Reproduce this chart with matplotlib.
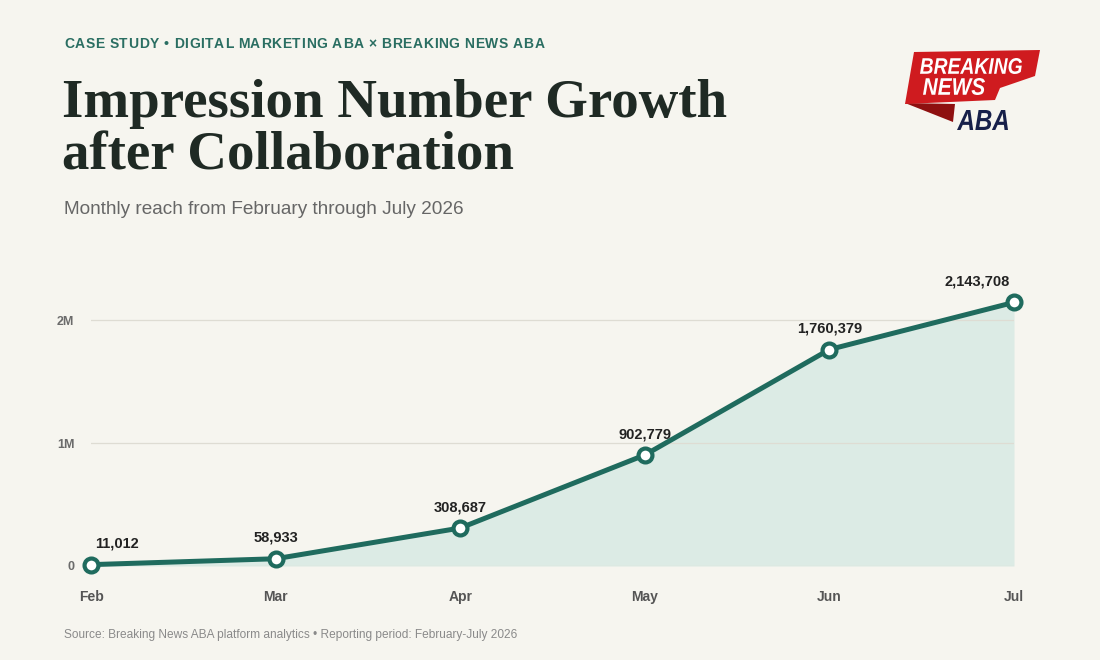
import matplotlib.pyplot as plt
from matplotlib.patches import Polygon, PathPatch
from matplotlib.textpath import TextPath
from matplotlib.font_manager import FontProperties
from matplotlib.transforms import Affine2D

months = ["Feb", "Mar", "Apr", "May", "Jun", "Jul"]
impressions = [11012, 58933, 308687, 902779, 1760379, 2143708]
y_ticks = [0, 1_000_000, 2_000_000]
y_tick_labels = ["0", "1M", "2M"]

bg = "#f6f5ef"
teal = "#1f6b5e"
fill_teal = "#dcebe5"
dark = "#1f2a24"

fig = plt.figure(figsize=(11, 6.6), dpi=100, facecolor=bg)

# main chart area
ax = fig.add_axes([91 / 1100, 94 / 660, 923 / 1100, 289 / 660])
ax.set_facecolor(bg)
x = list(range(len(months)))
ax.fill_between(x, impressions, 0, color=fill_teal, linewidth=0, zorder=1)
ax.plot(x, impressions, color=teal, linewidth=3.6, zorder=3, clip_on=False,
        marker="o", markersize=10, markerfacecolor="white",
        markeredgecolor=teal, markeredgewidth=3)
for i, v in enumerate(impressions):
    ha, dx = "center", 0
    if i == 0:
        ha, dx = "left", 3
    elif i == len(impressions) - 1:
        ha, dx = "right", -3
    ax.annotate(f"{v:,}", (i, v), xytext=(dx, 10), textcoords="offset points",
                ha=ha, va="bottom", fontsize=10.5, fontweight="bold",
                color="#222222", family="Liberation Sans")

ax.set_xlim(0, 5)
ax.set_ylim(0, 2_350_000)
ax.set_yticks(y_ticks)
ax.set_yticklabels(y_tick_labels)
ax.set_xticks(x)
ax.set_xticklabels(months)
for lab in ax.get_yticklabels():
    lab.set_fontweight("bold")
    lab.set_fontsize(9)
    lab.set_color("#6b6b6b")
    lab.set_family("Liberation Sans")
for lab in ax.get_xticklabels():
    lab.set_fontweight("bold")
    lab.set_fontsize(10)
    lab.set_color("#555555")
    lab.set_family("Liberation Sans")
ax.tick_params(axis="y", length=0, pad=12)
ax.tick_params(axis="x", length=0, pad=17)
ax.grid(axis="y", color="#dedcd3", linewidth=0.9, zorder=0)
for s in ax.spines.values():
    s.set_visible(False)

# kicker with letter spacing, drawn char by char
kicker = "CASE STUDY \u2022 DIGITAL MARKETING ABA \u00d7 BREAKING NEWS ABA"
renderer = fig.canvas.get_renderer()
kx = 64
for ch in kicker:
    t = fig.text(kx / 1100, 1 - 44 / 660, ch, fontsize=10, fontweight="bold",
                 color="#2a6e62", family="Liberation Sans", va="center", ha="left")
    kx += t.get_window_extent(renderer).width + 0.7 if ch != " " else 4.1

fig.text(62 / 1100, 1 - 104 / 660, "Impression Number Growth", fontsize=39.5,
         fontweight="bold", color=dark, family="Liberation Serif", va="center", ha="left")
fig.text(62 / 1100, 1 - 156 / 660, "after Collaboration", fontsize=39.5,
         fontweight="bold", color=dark, family="Liberation Serif", va="center", ha="left")
fig.text(64 / 1100, 1 - 210 / 660, "Monthly reach from February through July 2026",
         fontsize=13.7, color="#666666", family="Liberation Sans", va="center", ha="left")
fig.text(64 / 1100, 1 - 635 / 660,
         "Source: Breaking News ABA platform analytics \u2022 Reporting period: February-July 2026",
         fontsize=8.6, color="#8a8a8a", family="Liberation Sans", va="center", ha="left")

# logo drawn with patches, pixel coordinates (y downwards)
lg = fig.add_axes([890 / 1100, 1 - 140 / 660, 160 / 1100, 100 / 660])
lg.set_xlim(890, 1050)
lg.set_ylim(140, 40)
lg.axis("off")
lg.add_patch(Polygon([(905, 103), (955, 104), (953, 122)], closed=True,
                     facecolor="#8e1010", edgecolor="none"))
lg.add_patch(Polygon([(914, 52), (1040, 50), (1035, 76), (1000, 88), (995, 100), (905, 104)],
                     closed=True, facecolor="#cf1b1f", edgecolor="none"))

logo_font = FontProperties(family="Liberation Sans", weight="bold", style="italic")


def logo_word(word, x0, x1, ytop, ybot, color):
    tp = TextPath((0, 0), word, size=1, prop=logo_font)
    ext = tp.get_extents()
    sx = (x1 - x0) / ext.width
    sy = (ybot - ytop) / ext.height
    tr = Affine2D().translate(-ext.x0, -ext.y0).scale(sx, -sy).translate(x0, ybot)
    lg.add_patch(PathPatch(tr.transform_path(tp), facecolor=color, edgecolor="none"))


logo_word("BREAKING", 920, 1022, 58, 74, "white")
logo_word("NEWS", 923, 985, 78, 95, "white")
logo_word("ABA", 957, 1008, 110, 130, "#17204a")

fig.savefig("out.png", dpi=100, facecolor=bg)
